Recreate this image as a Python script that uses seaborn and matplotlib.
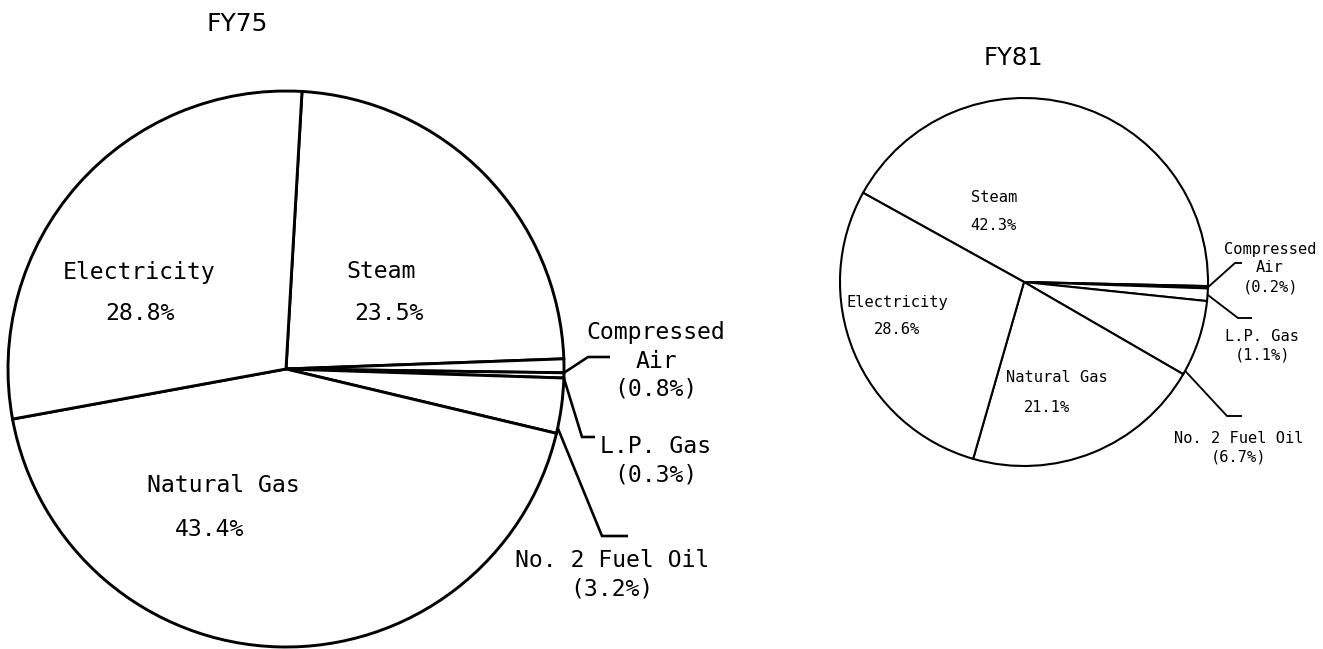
import numpy as np
import matplotlib
matplotlib.use("Agg")
import matplotlib.pyplot as plt
import seaborn as sns

# ---------------- data ----------------
categories = ["Steam", "Compressed Air", "L.P. Gas", "No. 2 Fuel Oil", "Natural Gas", "Electricity"]
fy75_values = [23.5, 0.8, 0.3, 3.2, 43.4, 28.8]
fy81_values = [42.3, 0.2, 1.1, 6.7, 21.1, 28.6]
titles = ["FY75", "FY81"]

sns.set_theme(style="white")
plt.rcParams['font.family'] = ['DejaVu Sans Mono', 'DejaVu Sans']
plt.rcParams['text.color'] = 'black'

W, H = 1323, 649
fig = plt.figure(figsize=(W / 100, H / 100), dpi=100)
ax = fig.add_axes([0, 0, 1, 1])

def Y(y):
    return H - y

MONO = 'DejaVu Sans Mono'

# layout for each pie
layouts = [
    dict(values=fy75_values, center=(286, 369), radius=278, start=86.7, lw=2.1,
         fs=16.7, title=titles[0], title_pos=(237, 24), title_fs=18,
         inside={"Electricity": ((139, 272), (140, 313)),
                 "Steam": ((381, 272), (389, 313)),
                 "Natural Gas": ((223, 486), (210, 530))},
         outside={"Compressed Air": dict(frac=1.0, elbow=(588, 357), end=(610, 357), text=(656, 361), lines=["Compressed", "Air"]),
                  "L.P. Gas": dict(frac=1.0, elbow=(582, 437), end=(595, 437), text=(656, 461), lines=["L.P. Gas"]),
                  "No. 2 Fuel Oil": dict(frac=0.9, elbow=(602, 536), end=(628, 536), text=(612, 575), lines=["No. 2 Fuel Oil"])},
         ),
    dict(values=fy81_values, center=(1024, 282), radius=184, start=151.0, lw=1.5,
         fs=11.1, title=titles[1], title_pos=(1013, 58), title_fs=17.5,
         inside={"Electricity": ((897, 302), (897, 329)),
                 "Steam": ((994, 197), (993, 226)),
                 "Natural Gas": ((1057, 378), (1047, 407))},
         outside={"Compressed Air": dict(frac=0.5, elbow=(1235, 263), end=(1242, 263), text=(1270, 268), lines=["Compressed", "Air"]),
                  "L.P. Gas": dict(frac=0.5, elbow=(1238, 318), end=(1252, 318), text=(1262, 346), lines=["L.P. Gas"]),
                  "No. 2 Fuel Oil": dict(frac=0.95, elbow=(1227, 416), end=(1242, 416), text=(1239, 448), lines=["No. 2 Fuel Oil"])},
         ),
]

for L in layouts:
    cx, cy = L["center"]
    r = L["radius"]
    wedges, _ = ax.pie(L["values"], center=(cx, Y(cy)), radius=r,
                       startangle=L["start"], counterclock=False,
                       colors=["white"] * len(L["values"]),
                       wedgeprops=dict(edgecolor="black", linewidth=L["lw"]))
    for w in wedges:
        w.set_joinstyle("miter")
    # inside labels
    for cat, ((nx, ny), (px, py)) in L["inside"].items():
        v = L["values"][categories.index(cat)]
        ax.text(nx, Y(ny), cat, ha="center", va="center", fontsize=L["fs"], family=MONO, color="black")
        ax.text(px, Y(py), f"{v:.1f}%", ha="center", va="center", fontsize=L["fs"], family=MONO, color="black")
    # outside labels with leader lines
    for cat, o in L["outside"].items():
        i = categories.index(cat)
        w = wedges[i]
        t1, t2 = w.theta1, w.theta2
        lo, hi = min(t1, t2), max(t1, t2)
        ang = np.deg2rad(hi - o["frac"] * (hi - lo))
        ax_, ay_ = cx + r * np.cos(ang), Y(cy) + r * np.sin(ang)
        ex, ey = o["elbow"]
        sx, sy = o["end"]
        ax.plot([ax_, ex, sx], [ay_, Y(ey), Y(sy)], color="black", lw=L["lw"] * 0.9,
                solid_joinstyle="miter", solid_capstyle="butt")
        v = L["values"][i]
        txt = "\n".join(o["lines"] + [f"({v:.1f}%)"])
        tx, ty = o["text"]
        ax.text(tx, Y(ty), txt, ha="center", va="center", multialignment="center",
                fontsize=L["fs"], family=MONO, linespacing=1.3, color="black")
    tx, ty = L["title_pos"]
    ax.text(tx, Y(ty), L["title"], ha="center", va="center", fontsize=L["title_fs"],
            family="DejaVu Sans", color="black")

ax.set_xlim(0, W)
ax.set_ylim(0, H)
ax.set_aspect("equal")
ax.axis("off")
fig.savefig("out.png", dpi=100, facecolor="white")
